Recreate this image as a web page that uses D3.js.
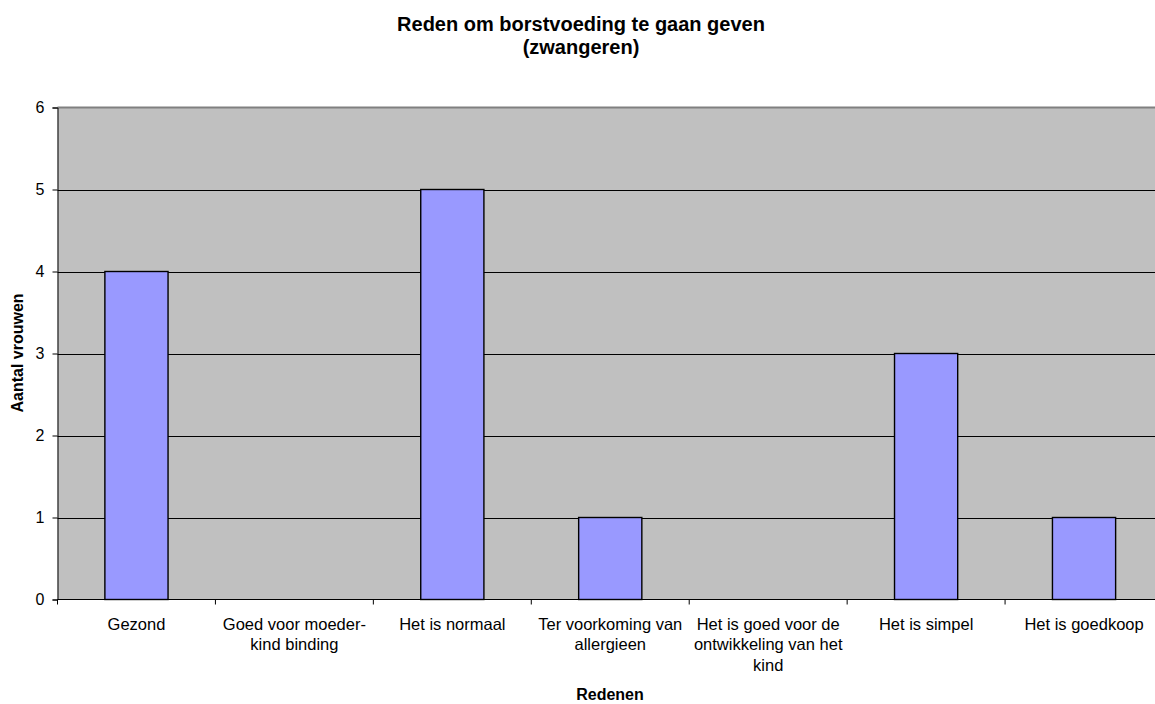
<!DOCTYPE html>
<html>
<head>
<meta charset="utf-8">
<script src="https://cdnjs.cloudflare.com/ajax/libs/d3/7.8.5/d3.min.js"></script>
<style>
  body { margin: 0; background: #fff; }
  svg { display: block; font-family: Arial, "Liberation Sans", sans-serif; }
</style>
</head>
<body>
<svg id="chart" width="1155" height="704"></svg>
<script>
// data
var categories = [
  ["Gezond"],
  ["Goed voor moeder-", "kind binding"],
  ["Het is normaal"],
  ["Ter voorkoming van", "allergieen"],
  ["Het is goed voor de", "ontwikkeling van het", "kind"],
  ["Het is simpel"],
  ["Het is goedkoop"]
];
var values = [4, 0, 5, 1, 0, 3, 1];
var yTicks = [0, 1, 2, 3, 4, 5, 6];
var titleLines = ["Reden om borstvoeding te gaan geven", "(zwangeren)"];

var svg = d3.select("#chart");
var margin = { left: 57.5, top: 107.5, right: 1163, bottom: 599.5 };

var x = d3.scaleBand().domain(d3.range(categories.length)).range([margin.left, margin.right]).paddingInner(0).paddingOuter(0);
var y = d3.scaleLinear().domain([0, 6]).range([margin.bottom, margin.top]);

// plot background
svg.append("rect")
  .attr("x", margin.left).attr("y", margin.top)
  .attr("width", margin.right - margin.left).attr("height", margin.bottom - margin.top)
  .attr("fill", "#c0c0c0");

// gridlines
svg.append("g").selectAll("line").data(yTicks.slice(1, -1)).enter().append("line")
  .attr("x1", margin.left).attr("x2", margin.right)
  .attr("y1", function(d) { return Math.round(y(d)) + 0.5; })
  .attr("y2", function(d) { return Math.round(y(d)) + 0.5; })
  .attr("stroke", "#000").attr("stroke-width", 1);
svg.append("line")
  .attr("x1", margin.left).attr("x2", margin.right)
  .attr("y1", y(6)).attr("y2", y(6))
  .attr("stroke", "#808080").attr("stroke-width", 2);

// bars
var bw = x.bandwidth() * 0.4;
svg.append("g").selectAll("rect").data(values).enter().append("rect")
  .attr("x", function(d, i) { return x(i) + (x.bandwidth() - bw) / 2; })
  .attr("y", function(d) { return y(d); })
  .attr("width", bw)
  .attr("height", function(d) { return y(0) - y(d); })
  .attr("fill", "#9999ff")
  .attr("stroke", "#000")
  .attr("stroke-width", 1.4)
  .style("display", function(d) { return d > 0 ? null : "none"; });

// y axis
var yAxis = svg.append("g")
  .attr("transform", "translate(" + margin.left + ",0)")
  .call(d3.axisLeft(y).tickValues(yTicks).tickFormat(d3.format("d")).tickSizeOuter(0).tickSize(5).tickPadding(8));
yAxis.select(".domain").attr("stroke", "#000");
yAxis.selectAll("text").attr("font-size", "16px").attr("fill", "#000").attr("font-family", "Arial, 'Liberation Sans', sans-serif");

// x axis
var xAxis = svg.append("g")
  .attr("transform", "translate(0," + margin.bottom + ")");
xAxis.append("line").attr("x1", margin.left).attr("x2", margin.right).attr("stroke", "#000");
xAxis.selectAll(".tk").data(d3.range(categories.length + 1)).enter().append("line")
  .attr("x1", function(i) { return i < categories.length ? x(i) : margin.right; })
  .attr("x2", function(i) { return i < categories.length ? x(i) : margin.right; })
  .attr("y1", 0).attr("y2", 5).attr("stroke", "#000");
var labels = xAxis.selectAll(".lbl").data(categories).enter().append("text")
  .attr("text-anchor", "middle")
  .attr("font-size", "16.5px")
  .attr("fill", "#000")
  .attr("transform", function(d, i) { return "translate(" + (x(i) + x.bandwidth() / 2) + ",30)"; });
labels.selectAll("tspan").data(function(d) { return d; }).enter().append("tspan")
  .attr("x", 0).attr("y", function(d, j) { return j * 20.7; })
  .text(function(d) { return d; });

// titles
svg.append("g").selectAll("text").data(titleLines).enter().append("text")
  .attr("x", 581).attr("y", function(d, i) { return 31 + i * 23; })
  .attr("text-anchor", "middle").attr("font-size", "20px").attr("font-weight", "bold")
  .text(function(d) { return d; });

svg.append("text")
  .attr("x", 610).attr("y", 700)
  .attr("text-anchor", "middle").attr("font-size", "16px").attr("font-weight", "bold")
  .text("Redenen");

svg.append("text")
  .attr("transform", "translate(23,353) rotate(-90)")
  .attr("text-anchor", "middle").attr("font-size", "16px").attr("font-weight", "bold")
  .text("Aantal vrouwen");
</script>
</body>
</html>
